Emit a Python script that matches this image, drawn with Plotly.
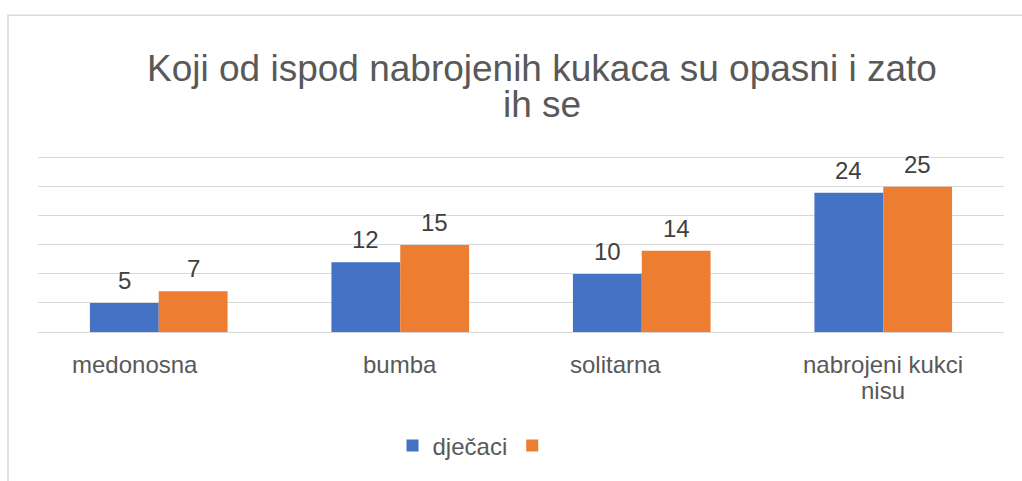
import plotly.graph_objects as go

# Survey answers: which insects are dangerous
categories = ["medonosna", "bumba", "solitarna", "nabrojeni kukci nisu"]
label_lines = [["medonosna"], ["bumba"], ["solitarna"], ["nabrojeni kukci", "nisu"]]
label_xshift = [-24, 0, -26, 0]
boys = [5, 12, 10, 24]
girls = [7, 15, 14, 25]
series_names = ["dječaci", ""]
title_lines = ["Koji od ispod nabrojenih kukaca su opasni i zato", "ih se"]

BLUE = "#4472C4"
ORANGE = "#ED7D31"
GRID = "#d9d9d9"
TEXT = "#595959"
FONT = "Liberation Sans, Arial, sans-serif"

W, H = 1022, 481
Y_MAX = 31
BASE_Y = 334                      # pixel row of the zero line
PX_PER_UNIT = 176 / 30
ML, MR, MB = 38, 18, H - BASE_Y
plot_h = PX_PER_UNIT * Y_MAX
MT = H - MB - plot_h
plot_w = W - ML - MR


def paper_y(px):
    return (BASE_Y - px) / plot_h


fig = go.Figure()
fig.add_trace(go.Bar(x=categories, y=boys, name=series_names[0],
                     marker=dict(color=BLUE, line=dict(width=0))))
fig.add_trace(go.Bar(x=categories, y=girls, name=series_names[1],
                     marker=dict(color=ORANGE, line=dict(width=0))))

annotations = []
# value labels above each bar
bar_half = plot_w / len(categories) * (1 - 0.43) / 4
for series, sign in ((boys, -1), (girls, 1)):
    for c, v in zip(categories, series):
        annotations.append(dict(
            x=c, y=v, xref="x", yref="y", text=str(v), showarrow=False,
            xshift=sign * bar_half, yshift=7, yanchor="bottom",
            font=dict(family=FONT, size=24, color="#404040")))

# category labels under the axis
for c, lines, dx in zip(categories, label_lines, label_xshift):
    for i, line in enumerate(lines):
        annotations.append(dict(
            x=c, y=0, xref="x", yref="y", text=line, showarrow=False,
            xshift=dx, yshift=-32 - 26 * i, yanchor="middle",
            font=dict(family=FONT, size=24, color=TEXT)))

# two-line title with tight line spacing
for i, line in enumerate(title_lines):
    annotations.append(dict(
        x=(542 - ML) / plot_w, y=paper_y(68 + 36 * i),
        xref="paper", yref="paper", text=line, showarrow=False,
        xanchor="center", yanchor="middle",
        font=dict(family=FONT, size=37, color=TEXT)))

fig.update_layout(
    width=W, height=H,
    margin=dict(l=ML, r=MR, t=MT, b=MB),
    paper_bgcolor="white", plot_bgcolor="white",
    barmode="group", bargap=0.43, bargroupgap=0,
    showlegend=True,
    legend=dict(orientation="h", x=(475 - ML) / plot_w, xanchor="center",
                y=paper_y(449), yanchor="middle",
                font=dict(family=FONT, size=24, color=TEXT),
                itemwidth=30, tracegroupgap=0),
    xaxis=dict(showticklabels=False, showgrid=False, zeroline=False,
               showline=False, ticks=""),
    yaxis=dict(range=[0, Y_MAX], tickvals=[5, 10, 15, 20, 25, 30],
               showticklabels=False,
               showgrid=True, gridcolor=GRID, gridwidth=1.3,
               zeroline=True, zerolinecolor=GRID, zerolinewidth=1.3,
               showline=False, ticks=""),
    annotations=annotations,
    shapes=[dict(type="rect", xref="paper", yref="paper",
                 x0=(8 - ML) / plot_w, x1=(W + 10 - ML) / plot_w,
                 y0=paper_y(H + 10), y1=paper_y(14),
                 line=dict(color=GRID, width=1.5), fillcolor="rgba(0,0,0,0)",
                 layer="below")],
)

fig.write_html("out.html")
